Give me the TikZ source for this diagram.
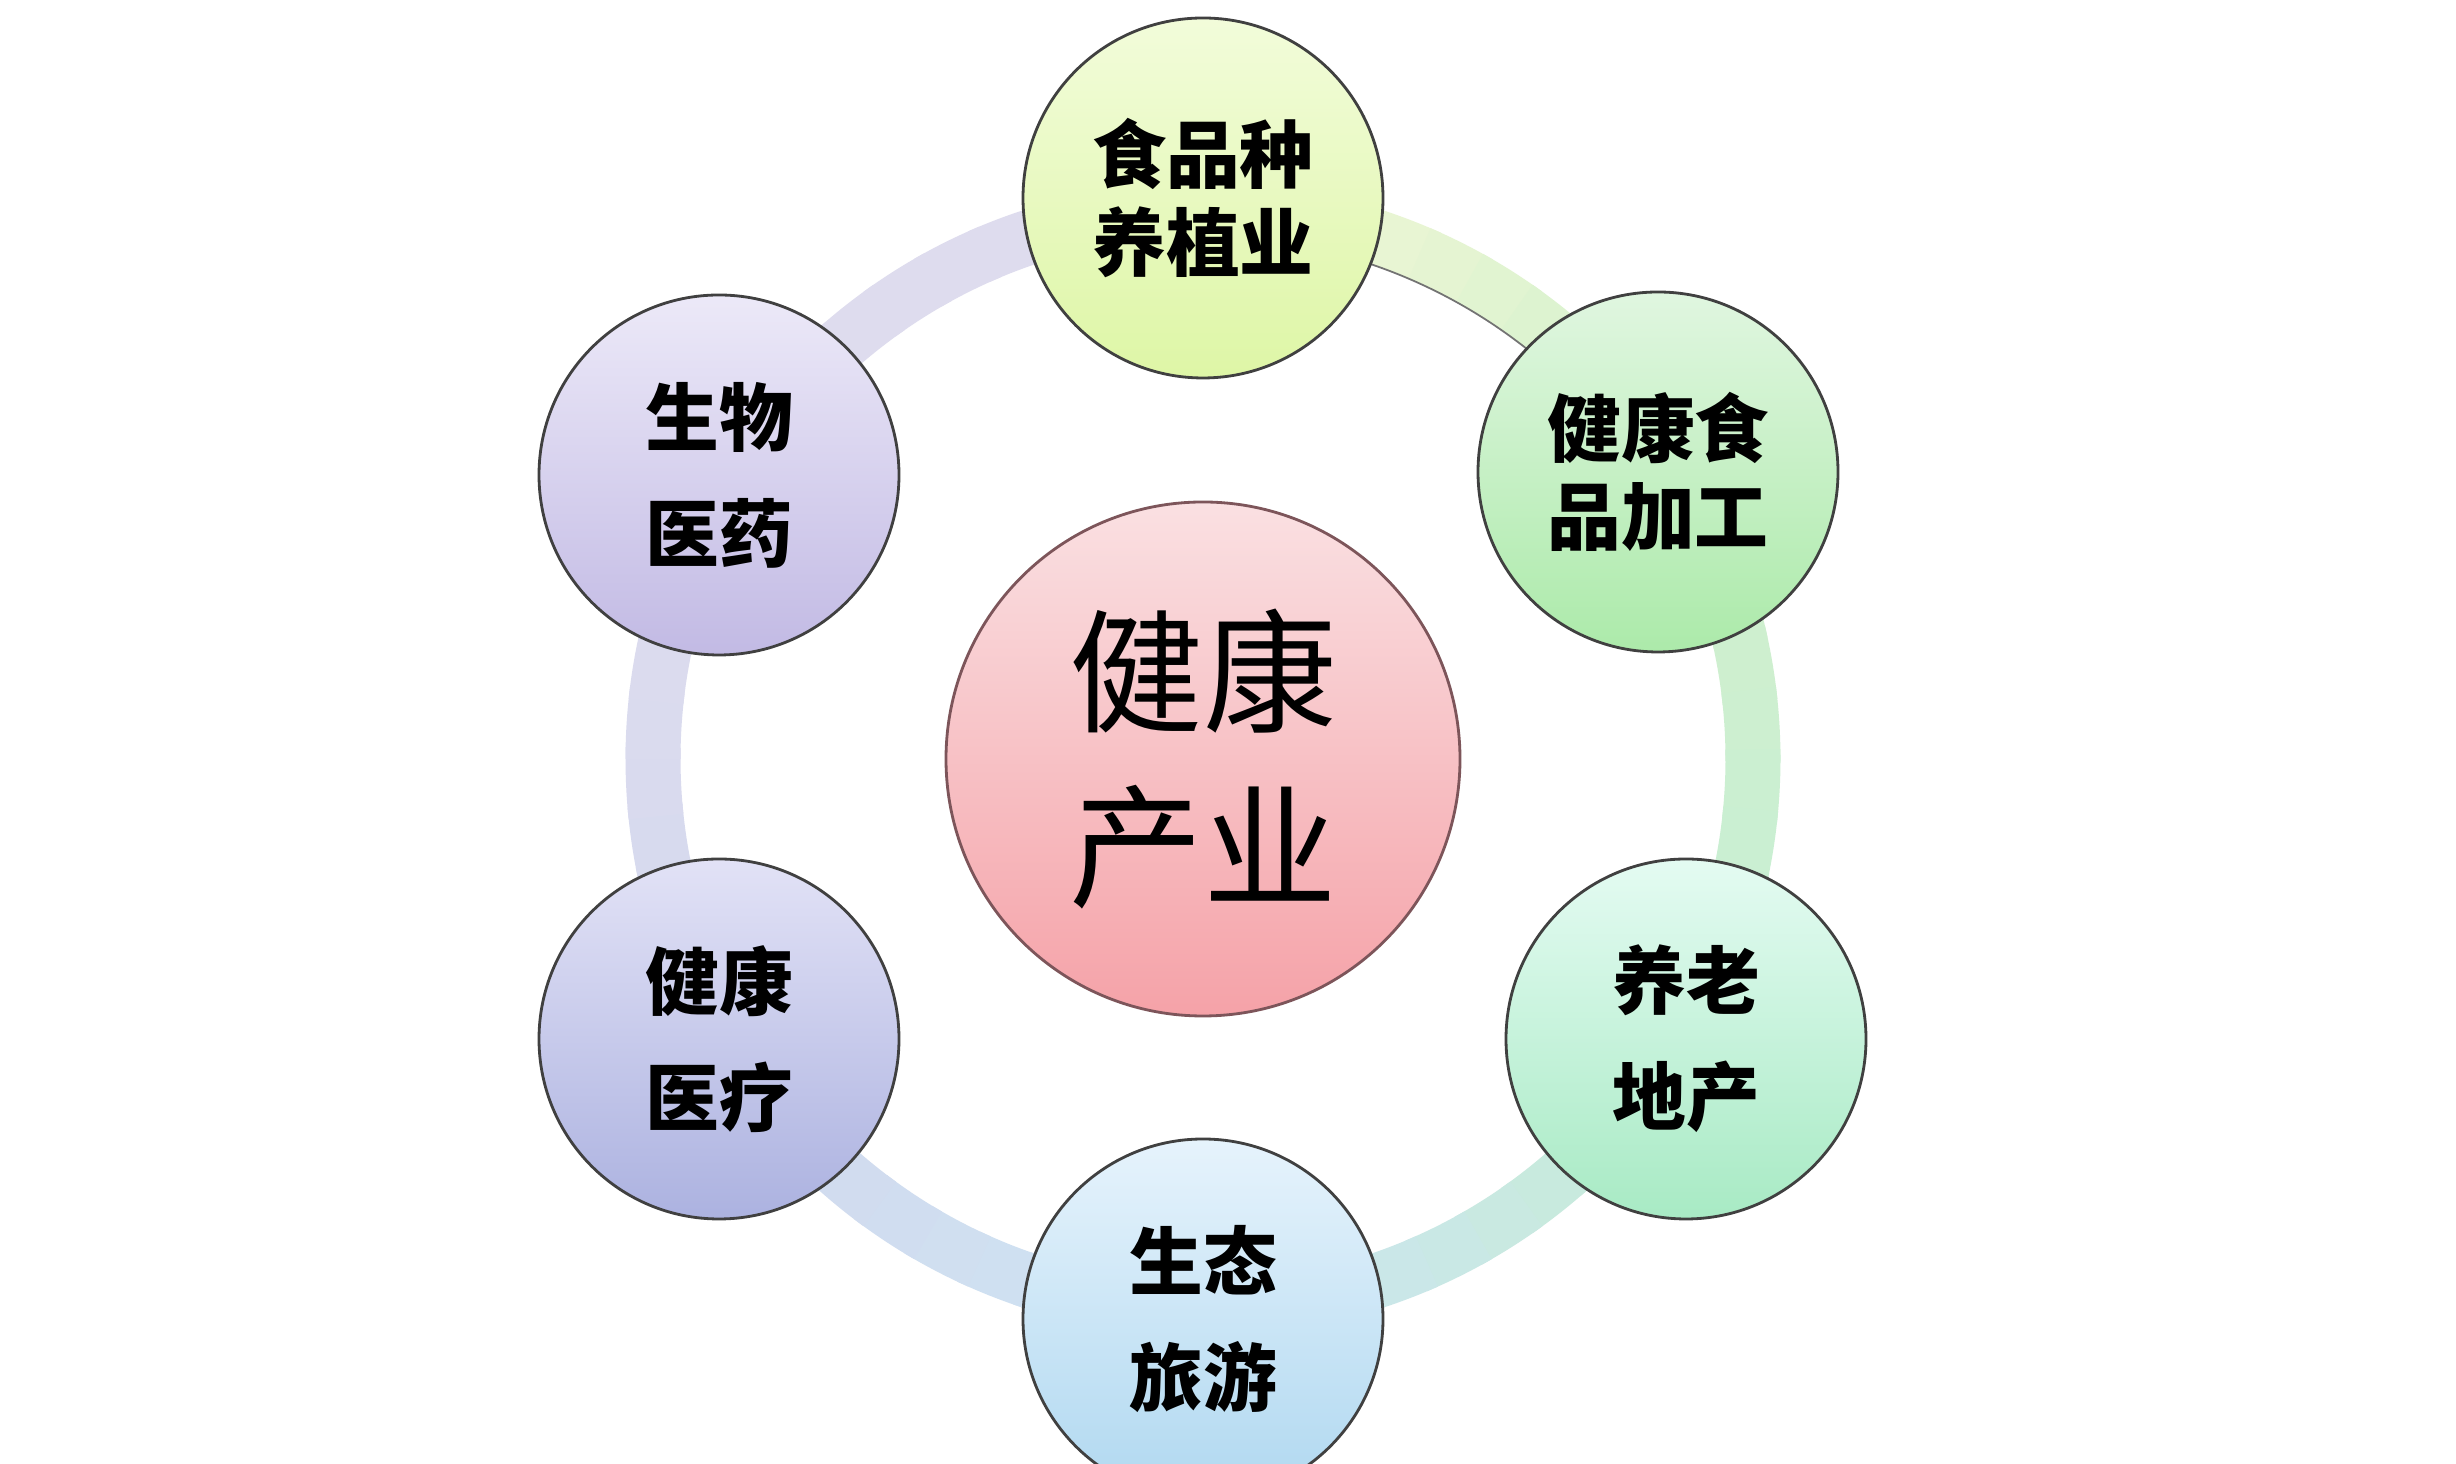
\documentclass[tikz,border=0pt]{standalone}
\usepackage{fontspec}
\newfontfamily\cjk{Noto Sans CJK SC}
\usepackage{tikz}
\usetikzlibrary{calc}
\usepackage{color}
\definecolor{hubtop}{RGB}{250, 224, 226}
\definecolor{hubbot}{RGB}{245, 162, 168}
\definecolor{hubline}{RGB}{125, 85, 90}
\definecolor{foodtop}{RGB}{242, 252, 218}
\definecolor{foodbot}{RGB}{222, 246, 166}
\definecolor{proctop}{RGB}{224, 246, 224}
\definecolor{procbot}{RGB}{172, 234, 170}
\definecolor{esttop}{RGB}{228, 251, 242}
\definecolor{estbot}{RGB}{168, 234, 196}
\definecolor{tourtop}{RGB}{230, 243, 252}
\definecolor{tourbot}{RGB}{176, 216, 240}
\definecolor{caretop}{RGB}{226, 226, 246}
\definecolor{carebot}{RGB}{172, 178, 224}
\definecolor{pharmtop}{RGB}{236, 233, 248}
\definecolor{pharmbot}{RGB}{194, 186, 228}
\definecolor{ringfood}{RGB}{244, 248, 214}
\definecolor{ringproc}{RGB}{210, 240, 205}
\definecolor{ringest}{RGB}{198, 238, 212}
\definecolor{ringtour}{RGB}{204, 227, 242}
\definecolor{ringcare}{RGB}{212, 217, 238}
\definecolor{ringpharm}{RGB}{222, 220, 238}
\tikzset{
    ringband/.style={line width=0.55cm},
    hub/.style={circle, draw=hubline, line width=0.8pt, minimum size=5.14cm, inner sep=0pt,
        top color=hubtop, bottom color=hubbot, align=center,
        font=\cjk\fontsize{38}{50}\selectfont},
    sector/.style={circle, draw=black!75, line width=0.8pt, minimum size=3.6cm, inner sep=0pt,
        align=center, font=\cjk\bfseries\fontsize{21}{33}\selectfont},
    tight/.style={font=\cjk\bfseries\fontsize{21}{25}\selectfont}
}

\begin{document}
\begin{tikzpicture}
        \clip (0,0) rectangle (24.56,14.64);
        \fill[white] (0,0) rectangle (24.56,14.64);
        \coordinate (mid) at (12.03,7.05);
        % ring behind the circles
        \foreach \a/\b/\ca/\cb in {90/32/ringfood/ringproc, 32/-30/ringproc/ringest,
                                   -30/-90/ringest/ringtour, -90/-150/ringtour/ringcare,
                                   -150/-210/ringcare/ringpharm, -210/-270/ringpharm/ringpharm}{
            \foreach \i in {0,...,9}{
                \pgfmathsetmacro\s{\a+(\b-\a)*\i/10}
                \pgfmathsetmacro\e{\a+(\b-\a)*(\i+1.2)/10}
                \pgfmathtruncatemacro\p{100-\i*100/9}
                \draw[ringband, color=\ca!\p!\cb] ($(mid)+(\s:5.5)$) arc[start angle=\s, end angle=\e, radius=5.5];
            }
        }
        \draw[black!55, line width=0.5pt] ($(mid)+(90:5.225)$) arc[start angle=90, end angle=32, radius=5.225];
        % circles
        \node[hub]                                           (hub)     at (12.03, 7.05) {健康\\产业};
        \node[sector, tight, top color=foodtop,  bottom color=foodbot]  (food)    at (12.03,12.66) {食品种\\养植业};
        \node[sector, tight, top color=proctop,  bottom color=procbot]  (process) at (16.58, 9.92) {健康食\\品加工};
        \node[sector,        top color=esttop,   bottom color=estbot]   (estate)  at (16.86, 4.25) {养老\\地产};
        \node[sector,        top color=tourtop,  bottom color=tourbot]  (tour)    at (12.03, 1.45) {生态\\旅游};
        \node[sector,        top color=caretop,  bottom color=carebot]  (care)    at ( 7.19, 4.25) {健康\\医疗};
        \node[sector,        top color=pharmtop, bottom color=pharmbot] (pharma)  at ( 7.19, 9.89) {生物\\医药};
\end{tikzpicture}
\end{document}
